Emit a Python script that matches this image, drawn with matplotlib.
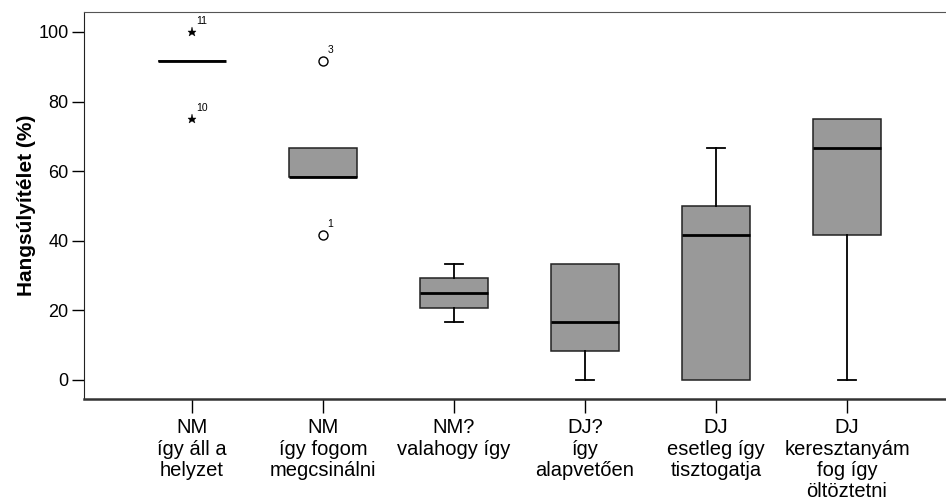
import numpy as np
import matplotlib
matplotlib.use("Agg")
import matplotlib.pyplot as plt

plt.rcParams['font.family'] = ['Liberation Sans', 'DejaVu Sans']

# kategóriák
categories = [
    "NM\nígy áll a\nhelyzet",
    "NM\nígy fogom\nmegcsinálni",
    "NM?\nvalahogy így",
    "DJ?\nígy\nalapvetően",
    "DJ\nesetleg így\ntisztogatja",
    "DJ\nkeresztanyám\nfog így\nöltöztetni",
]

# dobozábra statisztikák (%)
whislo = [91.67, 58.33, 16.67, 0.0, 0.0, 0.0]
q1 = [91.67, 58.33, 20.83, 8.33, 0.0, 41.67]
med = [91.67, 58.33, 25.0, 16.67, 41.67, 66.67]
q3 = [91.67, 66.67, 29.17, 33.33, 50.0, 75.0]
whishi = [91.67, 66.67, 33.33, 33.33, 66.67, 75.0]

# kiugró értékek: (kategória index, érték, eset azonosító, típus)
out_cat = [0, 0, 1, 1]
out_val = [100.0, 75.0, 91.67, 41.67]
out_id = ["11", "10", "3", "1"]
out_kind = ["extreme", "extreme", "outlier", "outlier"]

yticks = [0, 20, 40, 60, 80, 100]

W, H = 946, 499
fig = plt.figure(figsize=(W / 100, H / 100), dpi=100)
ax = fig.add_axes([84 / W, (H - 399) / H, (955 - 84) / W, (399 - 12) / H])

stats = []
for i in range(len(categories)):
    stats.append(dict(whislo=whislo[i], q1=q1[i], med=med[i], q3=q3[i],
                      whishi=whishi[i], fliers=[]))

pos = np.arange(1, len(categories) + 1)
parts = ax.bxp(stats, positions=pos, widths=0.52, patch_artist=True, showfliers=False,
               boxprops=dict(facecolor='#999999', edgecolor='#222222', linewidth=1.1),
               medianprops=dict(color='black', linewidth=2.0),
               whiskerprops=dict(color='black', linewidth=1.3),
               capprops=dict(color='black', linewidth=1.3),
               capwidths=0.14)

# nincs bajusz, ha egybeesik a doboz szélével
for i in range(len(categories)):
    if whislo[i] == q1[i]:
        parts['caps'][2 * i].set_visible(False)
    if whishi[i] == q3[i]:
        parts['caps'][2 * i + 1].set_visible(False)

for c, v, lab, kind in zip(out_cat, out_val, out_id, out_kind):
    x = pos[c]
    if kind == "extreme":
        ax.plot(x, v, marker='*', color='black', markersize=6.5,
                markeredgewidth=0.3, linestyle='none')
    else:
        ax.plot(x, v, marker='o', markerfacecolor='white', markeredgecolor='black',
                markersize=6.5, markeredgewidth=1.0, linestyle='none')
    ax.annotate(lab, (x, v), xytext=(3, 4.5), textcoords='offset points',
                fontsize=7.5, ha='left', va='bottom')

ax.set_xlim(1 - 108 / 131, len(categories) + 108 / 131)
ax.set_ylim(-19 / 3.48, 100 + 20 / 3.48)
ax.set_yticks(yticks)
ax.set_yticklabels([str(t) for t in yticks], fontsize=13)
ax.set_xticks(pos)
ax.set_xticklabels(categories, fontsize=14.5, linespacing=1.14)
ax.tick_params(axis='y', length=9, width=1.0, pad=2)
ax.tick_params(axis='x', length=10, width=1.0, pad=4)
ax.set_ylabel("Hangsúlyítélet (%)", fontsize=15, fontweight='bold', labelpad=2)

ax.spines['right'].set_visible(False)
ax.spines['bottom'].set_linewidth(1.8)
ax.spines['bottom'].set_color('#333333')
ax.spines['top'].set_color('#555555')
ax.spines['left'].set_color('#222222')

fig.savefig("out.png", dpi=100)
